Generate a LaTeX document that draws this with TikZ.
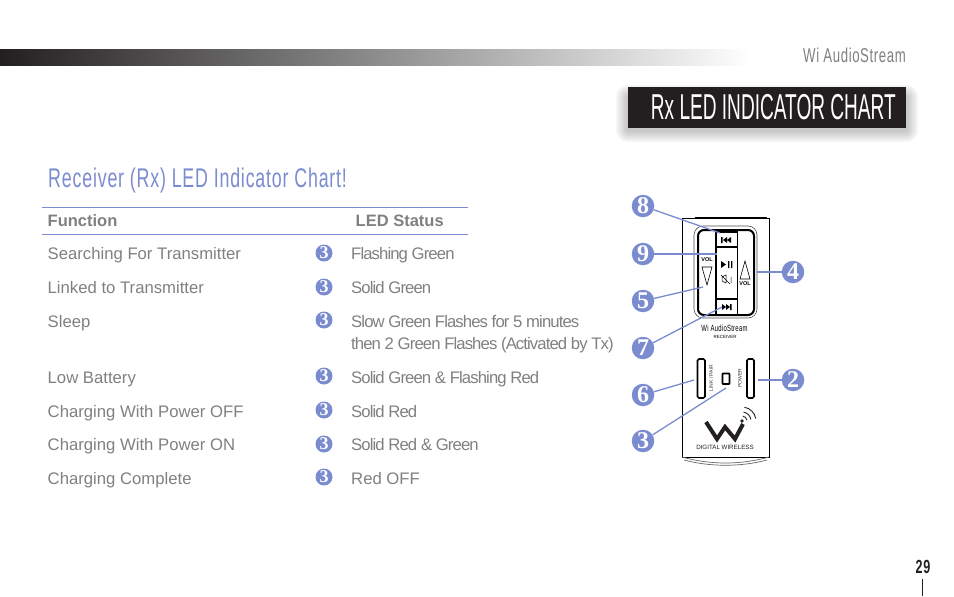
\documentclass[tikz,border=0pt]{standalone}
\usepackage{fontspec}
\setmainfont{Liberation Sans}
\newfontfamily\condfont[FakeStretch=0.66,LetterSpace=3]{Liberation Sans}
\newfontfamily\titlefont[FakeStretch=0.53]{Liberation Sans}
\newfontfamily\digitfont{Liberation Serif}
\usetikzlibrary{positioning,arrows,calc}
\definecolor{wiblue}{HTML}{7B8BCF}
\definecolor{wiblack}{HTML}{231F20}
\definecolor{wigray}{HTML}{808080}
\tikzset{
    numdot/.style = {
        shape=circle,
        fill=wiblue,
        text=white,
        inner sep=0pt,
        minimum size=22.5pt,
        font=\digitfont\bfseries\fontsize{24}{24}\selectfont
    },
    smalldot/.style = {
        shape=circle,
        fill=wiblue,
        text=white,
        inner sep=0pt,
        minimum size=17pt,
        font=\digitfont\bfseries\fontsize{18}{18}\selectfont
    },
    rowtext/.style = {
        anchor=base west,
        inner sep=0pt,
        text=wigray,
        font=\fontsize{16.7}{16.7}\selectfont
    },
    statustext/.style = {
        anchor=base west,
        inner sep=0pt,
        text=wigray,
        font=\fontsize{16.7}{16.7}\selectfont\addfontfeatures{LetterSpace=-5.4}
    },
    headtext/.style = {
        anchor=base west,
        inner sep=0pt,
        text=wigray,
        font=\bfseries\fontsize{16.5}{16.5}\selectfont
    },
    leader/.style = {
        draw=wiblue,
        line width=1.3pt
    },
    rulerow/.style = {
        draw=wiblue,
        line width=0.8pt
    },
    tinytext/.style = {
        inner sep=0pt,
        text=black,
        font=\bfseries\fontsize{5.5}{5.5}\selectfont
    },
    keyline/.style = {
        draw=black,
        line width=2pt
    },
    portbox/.style = {
        draw=black,
        line width=1.7pt,
        rounded corners=1.5pt
    },
}
\begin{document}
\begin{tikzpicture}[x=1pt,y=-1pt]
    \useasboundingbox (0,0) rectangle (954,597);

    \fill[left color=wiblack,right color=white,middle color=black!45] (0,49) rectangle (750,65);
    \node[anchor=base east,inner sep=0pt,text=wigray,font=\condfont\fontsize{20}{20}\selectfont] (brand) at (906,62) {Wi AudioStream};

    \foreach \s in {2,4,...,12}
        \fill[black,opacity=0.04,rounded corners=\s pt] (628-\s,87+10-\s) rectangle (906+\s,128+2+\s);
    \node[anchor=north west,inner sep=0pt,fill=wiblack,minimum width=278pt,minimum height=41pt] (titlebox) at (628,87) {};
    \node[anchor=base east,inner sep=0pt,text=white,font=\titlefont\fontsize{36}{36}\selectfont] (title) at (896,119) {Rx LED INDICATOR CHART};

    \node[anchor=base west,inner sep=0pt,text=wiblue,font=\condfont\fontsize{27}{27}\selectfont] (heading) at (48,187) {Receiver (Rx) LED Indicator Chart!};

    \coordinate (rulea) at (42,207);
    \coordinate (ruleb) at (468,207);
    \coordinate (rulec) at (42,234);
    \coordinate (ruled) at (468,234);
    \path[rulerow] (rulea) -- (ruleb);
    \path[rulerow] (rulec) -- (ruled);
    \node[headtext] (function) at (47.5,226) {Function};
    \node[headtext] (status) at (355.5,226) {LED Status};

    \node[rowtext] (rowa) at (47.5,259) {Searching For Transmitter};
    \node[rowtext] (rowb) at (47.5,293) {Linked to Transmitter};
    \node[rowtext] (rowc) at (47.5,327) {Sleep};
    \node[rowtext] (rowd) at (47.5,383) {Low Battery};
    \node[rowtext] (rowe) at (47.5,417) {Charging With Power OFF};
    \node[rowtext] (rowf) at (47.5,450) {Charging With Power ON};
    \node[rowtext] (rowg) at (47.5,484) {Charging Complete};

    \node[smalldot] (dota) at (324,253) {3};
    \node[smalldot] (dotb) at (324,287) {3};
    \node[smalldot] (dotc) at (324,320) {3};
    \node[smalldot] (dotd) at (324,376) {3};
    \node[smalldot] (dote) at (324,410) {3};
    \node[smalldot] (dotf) at (324,444) {3};
    \node[smalldot] (dotg) at (324,477) {3};

    \node[statustext] (stata) at (351,259) {Flashing Green};
    \node[statustext] (statb) at (351,293) {Solid Green};
    \node[statustext] (statc) at (351,327) {Slow Green Flashes for 5 minutes};
    \node[statustext] (statcc) at (351,349) {then 2 Green Flashes (Activated by Tx)};
    \node[statustext] (statd) at (351,383) {Solid Green \& Flashing Red};
    \node[statustext] (state) at (351,417) {Solid Red};
    \node[statustext] (statf) at (351,450) {Solid Red \& Green};
    \node[rowtext] (statg) at (351,484) {Red OFF};

    % remote body
    \draw[black,line width=1pt] (682,218) -- (769,218) -- (769,457) -- (682,457) -- cycle;
    \draw[black,line width=2pt] (695,217.5) -- (767,217.5);
    \draw[black!60,line width=0.7pt] (682,457) .. controls (710,465) and (741,465) .. (769,457);
    \draw[black!60,line width=0.7pt] (684,460) .. controls (710,467) and (741,467) .. (767,460);
    \draw[black!70,line width=0.6pt,rounded corners=9pt] (694,226) rectangle (757,318);

    % keypad
    \draw[keyline,rounded corners=6pt] (698,230) rectangle (754,315);
    \draw[keyline] (716,230) -- (716,315);
    \draw[black,line width=1pt] (737,230) -- (737,315);
    \draw[keyline] (716,232) -- (737,232);
    \draw[keyline] (716,247) -- (737,247);
    \draw[keyline] (716,299) -- (737,299);
    \draw[keyline] (716,315) -- (737,315);

    \node[tinytext] (volleft) at (707,260) {VOL};
    \node[tinytext] (volright) at (745,284) {VOL};
    \draw[black,line width=0.6pt] (702,267) -- (712,267) -- (707,285) -- cycle;
    \draw[black,line width=0.6pt] (745,261) -- (750,279) -- (740,279) -- cycle;

    \fill[black] (721,237) rectangle (722.5,243) (731,237) -- (727,240) -- (731,243) -- cycle (727,237) -- (723,240) -- (727,243) -- cycle;
    \fill[black] (722,304) -- (726,307) -- (722,310) -- cycle (726,304) -- (730,307) -- (726,310) -- cycle (730,304) rectangle (731.5,310);
    \fill[black] (721,261) -- (726,264.5) -- (721,268) -- cycle (728,261) rectangle (729.3,268) (731,261) rectangle (732.3,268);
    \draw[black,line width=0.5pt] (722,277) -- (726,275) -- (726,283) -- (722,281) -- cycle (721,275) -- (730,284) (731,277) -- (731,283);

    % lower panel
    \node[inner sep=0pt,text=black,font=\condfont\fontsize{9}{9}\selectfont] (brandsmall) at (724.5,328) {Wi AudioStream};
    \node[inner sep=0pt,text=black,font=\fontsize{4.5}{4.5}\selectfont] (receiver) at (725,337) {RECEIVER};
    \draw[portbox] (697.5,359) rectangle (705,398);
    \draw[portbox] (747,359) rectangle (754,398);
    \draw[portbox,rounded corners=0.5pt] (722.5,373.5) rectangle (729.5,384);
    \node[inner sep=0pt,rotate=90,text=black!80,font=\fontsize{5}{5}\selectfont] (linkpair) at (711,378) {LINK / PAIR};
    \node[inner sep=0pt,rotate=90,text=black!80,font=\fontsize{5}{5}\selectfont] (power) at (740,378) {POWER};

    % logo
    \draw[wiblack,line width=4pt,miter limit=2] (706,422) -- (717,439) -- (725,427) -- (735,439) -- (743,424);
    \fill[wiblack] (742,421) circle (1.8pt);
    \draw[wiblack,line width=0.9pt] (742.9,416.1) arc[start angle=80,end angle=10,radius=5pt];
    \draw[wiblack,line width=0.9pt] (743.6,412.1) arc[start angle=80,end angle=10,radius=9pt];
    \draw[wiblack,line width=0.9pt] (744.4,407.2) arc[start angle=80,end angle=10,radius=14pt];
    \node[inner sep=0pt,text=wiblack,font=\fontsize{6.2}{6.2}\selectfont] (wireless) at (725,447) {DIGITAL WIRELESS};

    \node[numdot] (nei) at (643,206) {8};
    \node[numdot] (nin) at (643,254) {9};
    \node[numdot] (fiv) at (643,301) {5};
    \node[numdot] (sev) at (643,348) {7};
    \node[numdot] (six) at (643,395) {6};
    \node[numdot] (thr) at (643,441) {3};
    \node[numdot] (fou) at (793,272) {4};
    \node[numdot] (two) at (793,380) {2};

    \coordinate (tonei) at (720,233);
    \coordinate (tonin) at (717,254);
    \coordinate (tofiv) at (703,287);
    \coordinate (tosev) at (722,307);
    \coordinate (tosix) at (694,380);
    \coordinate (tothr) at (726,388);
    \coordinate (tofou) at (757,272);
    \coordinate (totwo) at (758,380);

    \path[leader] (nei) -- (tonei);
    \path[leader] (nin) -- (tonin);
    \path[leader] (fiv) -- (tofiv);
    \path[leader] (sev) -- (tosev);
    \path[leader] (six) -- (tosix);
    \path[leader] (thr) -- (tothr);
    \path[leader] (fou) -- (tofou);
    \path[leader] (two) -- (totwo);

    \node[anchor=base,inner sep=0pt,text=wiblack,font=\condfont\bfseries\fontsize{19}{19}\selectfont] (page) at (923,573) {29};
    \coordinate (ticka) at (922,579);
    \coordinate (tickb) at (922,596);
    \path[draw,wiblack,line width=0.6pt] (ticka) -- (tickb);
\end{tikzpicture}
\end{document}
